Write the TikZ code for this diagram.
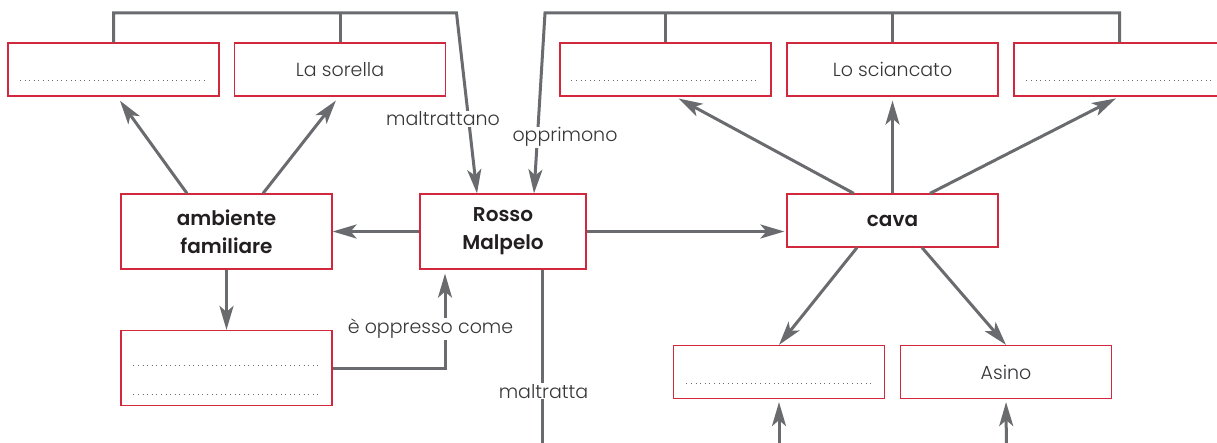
\documentclass[tikz,border=0pt]{standalone}
\usepackage{fontspec}
\setmainfont{Poppins}[UprightFont=* Light, BoldFont=* SemiBold]
\usetikzlibrary{arrows.meta}
\definecolor{boxred}{RGB}{210,40,62}
\definecolor{linegray}{RGB}{106,107,111}
\definecolor{txtdark}{RGB}{35,31,32}
\definecolor{txtlight}{RGB}{55,55,58}
\tikzset{
  box/.style={draw=boxred, line width=1.2pt, fill=white, minimum width=211pt, minimum height=53pt, inner sep=0pt, text=txtlight, font=\fontsize{19}{22}\selectfont},
  mainbox/.style={box, text=txtdark, font=\fontsize{20}{28}\selectfont\bfseries, align=center},
  conn/.style={draw=linegray, line width=3pt},
  arr/.style={conn, -{Stealth[length=24pt,width=14pt,inset=6pt]}},
  lbl/.style={fill=white, inner sep=1pt, text=txtlight, font=\fontsize{19}{22}\selectfont, anchor=base},
  dotline/.style={draw=linegray, line width=0.9pt, dash pattern=on 0.9pt off 3.7pt}
}
\begin{document}
\begin{tikzpicture}[x=1pt, y=-1pt]
\useasboundingbox (0,0) rectangle (1217,443);
\clip (0,0) rectangle (1217,443);
% boxes
\node[box] (b1) at (113.5,69.5) {};
\node[box] (b2) at (340,69.5) {La sorella};
\node[box] (b3) at (665.5,69.5) {};
\node[box] (b4) at (892.5,69.5) {Lo sciancato};
\node[box] (b5) at (1119.5,69.5) {};
\node[mainbox, minimum height=75pt] (amb) at (226.5,231.5) {ambiente\\familiare};
\node[mainbox, minimum width=166pt, minimum height=75pt] (rosso) at (503,231.5) {Rosso\\Malpelo};
\node[mainbox] (cava) at (892.5,220.5) {cava};
\node[box, minimum height=75pt] (bl) at (226.5,368) {};
\node[box] (bd) at (779,372) {};
\node[box] (asino) at (1006,372) {Asino};
% dotted placeholders
\draw[dotline] ([xshift=12.5pt,yshift=16pt]b1.south west) -- ([xshift=-13.5pt,yshift=16pt]b1.south east);
\draw[dotline] ([xshift=12pt,yshift=16pt]b3.south west) -- ([xshift=-13pt,yshift=16pt]b3.south east);
\draw[dotline] ([xshift=13pt,yshift=16pt]b5.south west) -- ([xshift=-13pt,yshift=16pt]b5.south east);
\draw[dotline] ([xshift=13pt,yshift=41pt]bl.south west) -- ([xshift=-12pt,yshift=41pt]bl.south east);
\draw[dotline] ([xshift=13pt,yshift=12pt]bl.south west) -- ([xshift=-12pt,yshift=12pt]bl.south east);
\draw[dotline] ([xshift=13.5pt,yshift=16pt]bd.south west) -- ([xshift=-13.5pt,yshift=16pt]bd.south east);
% coordinates
\coordinate (mlT) at (456.5,13);
\coordinate (opT) at (545,13);
\coordinate (mtE) at (542,460);
\coordinate (bdE) at (779,460);
\coordinate (asE) at (1006.5,460);
% brackets to Rosso Malpelo
\draw[arr] (b1.north) |- (mlT) -- ([xshift=-26pt]rosso.north);
\draw[conn] (b2.north) -- (b2.north |- mlT);
\draw[arr] (b5.north) |- (opT) -- ([xshift=31pt]rosso.north);
\draw[conn] (b3.north) -- (b3.north |- opT);
\draw[conn] (b4.north) -- (b4.north |- opT);
% ambiente familiare
\draw[arr, shorten >=5pt] ([xshift=-39.5pt]amb.north) -- ([xshift=3.5pt]b1.south);
\draw[arr, shorten >=5pt] ([xshift=36.5pt]amb.north) -- ([xshift=-1pt]b2.south);
\draw[arr] (amb.south) -- (bl.north);
\draw[arr] (rosso.west) -- (amb.east);
\draw[arr, shorten >=2pt] (rosso.east) -- (rosso.east -| cava.west);
\draw[arr, shorten >=4pt] (bl.east) -| ([xshift=-58pt]rosso.south);
\draw[conn] ([xshift=39pt]rosso.south) -- (mtE);
% cava
\draw[arr, shorten >=4pt] ([xshift=-38.7pt]cava.north) -- ([xshift=9.5pt]b3.south);
\draw[arr, shorten >=4pt] (cava.north) -- (b4.south);
\draw[arr, shorten >=4pt] ([xshift=37.5pt]cava.north) -- (b5.south);
\draw[arr] ([xshift=-35.5pt]cava.south) -- (bd.north);
\draw[arr] ([xshift=29.5pt]cava.south) -- (asino.north);
\draw[arr, shorten >=3pt] (bdE) -- (bd.south);
\draw[arr, shorten >=3pt] (asE) -- (asino.south);
% labels
\node[lbl] (lmaltrattano) at (443,126) {maltrattano};
\node[lbl] (lopprimono) at (565,142) {opprimono};
\node[lbl] (loppresso) at (430.5,334) {è oppresso come};
\node[lbl] (lmaltratta) at (543.5,398) {maltratta};
\end{tikzpicture}
\end{document}
